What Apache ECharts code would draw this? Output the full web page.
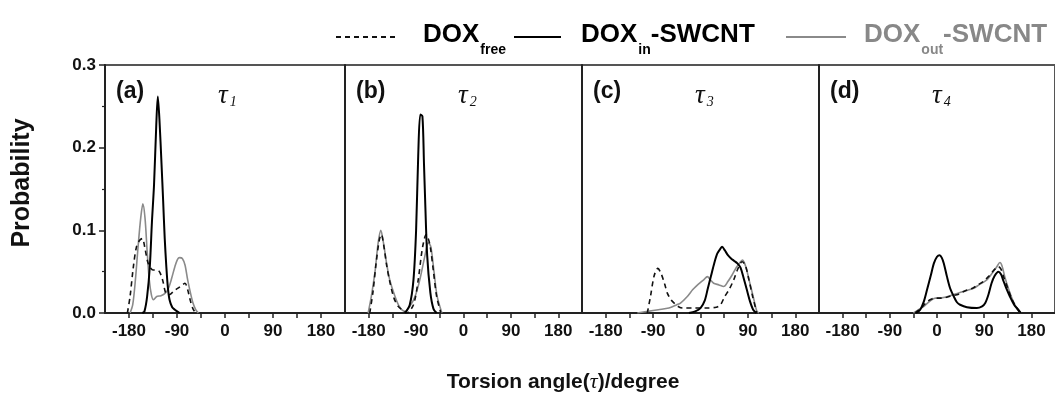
<!DOCTYPE html>
<html>
<head>
<meta charset="utf-8">
<script src="https://cdn.jsdelivr.net/npm/echarts@6/dist/echarts.min.js"></script>
<style>
  html, body { margin: 0; padding: 0; background: #fff; }
  #chart { width: 1055px; height: 403px; }
</style>
</head>
<body>
<div id="chart"></div>
<script>
// x tick labels shared by every panel
const xTicks = [-180, -90, 0, 90, 180];
const yTicks = [0, 0.1, 0.2, 0.3];
const panelTags = ["(a)", "(b)", "(c)", "(d)"];
const tauSubs = ["1", "2", "3", "4"];

// panel (a) tau1
const aFree = [[-183,0],[-178,0.02],[-172,0.055],[-166,0.08],[-160,0.088],[-155,0.09],[-150,0.078],[-145,0.062],[-140,0.055],[-135,0.052],[-129,0.052],[-123,0.05],[-117,0.04],[-111,0.024],[-105,0.022],[-100,0.024],[-93,0.028],[-86,0.031],[-80,0.034],[-75,0.036],[-70,0.028],[-65,0.015],[-60,0.005],[-55,0]];
const aIn = [[-155,0],[-151,0.002],[-146,0.02],[-141,0.056],[-137,0.11],[-133,0.156],[-129,0.225],[-126,0.262],[-123,0.235],[-119,0.18],[-116,0.136],[-113,0.09],[-110,0.056],[-107,0.03],[-104,0.016],[-99,0.007],[-94,0.004],[-85,0]];
const aOut = [[-178,0],[-173,0.01],[-168,0.04],[-163,0.08],[-158,0.115],[-154,0.132],[-150,0.115],[-146,0.075],[-142,0.04],[-138,0.022],[-134,0.016],[-128,0.02],[-120,0.021],[-112,0.024],[-106,0.03],[-100,0.042],[-94,0.056],[-89,0.065],[-85,0.067],[-80,0.066],[-75,0.058],[-70,0.04],[-65,0.025],[-60,0.012],[-55,0.004],[-50,0]];

// panel (b) tau2
const bFree = [[-178,0],[-172,0.025],[-166,0.06],[-160,0.088],[-156,0.095],[-151,0.08],[-146,0.058],[-140,0.038],[-132,0.018],[-124,0.008],[-117,0.004],[-108,0],[-95,0.01],[-86,0.04],[-80,0.07],[-76,0.085],[-71,0.095],[-67,0.09],[-63,0.08],[-57,0.05],[-51,0.02],[-43,0]];
const bIn = [[-111,0],[-102,0.01],[-95,0.04],[-90,0.1],[-86,0.19],[-82,0.24],[-78,0.238],[-75,0.18],[-73,0.14],[-69,0.07],[-63,0.025],[-57,0.005],[-51,0]];
const bOut = [[-181,0],[-175,0.02],[-168,0.05],[-162,0.085],[-157,0.1],[-152,0.085],[-146,0.06],[-140,0.04],[-130,0.02],[-121,0.007],[-111,0.002],[-102,0.008],[-92,0.02],[-83,0.04],[-73,0.07],[-67,0.085],[-62,0.08],[-56,0.05],[-50,0.02],[-41,0]];

// panel (c) tau3
const cFree = [[-101,0],[-95,0.02],[-88,0.045],[-81,0.054],[-75,0.048],[-68,0.035],[-63,0.024],[-56,0.016],[-50,0.012],[-40,0.007],[-30,0.006],[-10,0.006],[10,0.006],[30,0.007],[38,0.01],[46,0.02],[54,0.028],[63,0.04],[70,0.052],[79,0.062],[85,0.058],[92,0.04],[99,0.02],[107,0]];
const cIn = [[-22,0],[-10,0.002],[0,0.006],[8,0.015],[14,0.03],[20,0.045],[26,0.06],[32,0.072],[38,0.078],[41,0.08],[46,0.076],[52,0.07],[58,0.066],[64,0.063],[70,0.06],[76,0.055],[82,0.042],[88,0.028],[94,0.014],[100,0.004],[106,0]];
const cOut = [[-120,0],[-100,0.002],[-80,0.004],[-60,0.006],[-45,0.01],[-38,0.012],[-25,0.02],[-15,0.028],[-9,0.032],[0,0.037],[6,0.04],[13,0.044],[19,0.04],[25,0.036],[35,0.034],[44,0.032],[52,0.038],[60,0.046],[68,0.055],[76,0.062],[80,0.064],[86,0.056],[93,0.038],[100,0.02],[107,0.002],[111,0]];

// panel (d) tau4
const dFree = [[-42,0],[-34,0.004],[-26,0.009],[-18,0.014],[-10,0.017],[-2,0.018],[8,0.018],[18,0.019],[28,0.021],[38,0.022],[48,0.025],[58,0.028],[68,0.03],[78,0.034],[88,0.038],[98,0.044],[106,0.05],[112,0.054],[117,0.056],[122,0.053],[128,0.042],[135,0.03],[142,0.018],[150,0.008],[158,0]];
const dIn = [[-40,0],[-32,0.004],[-25,0.014],[-19,0.028],[-12,0.045],[-6,0.06],[0,0.068],[5,0.07],[9,0.067],[13,0.06],[19,0.044],[25,0.03],[32,0.02],[38,0.013],[44,0.01],[57,0.007],[76,0.006],[86,0.008],[92,0.012],[98,0.022],[104,0.036],[110,0.045],[117,0.05],[122,0.047],[126,0.04],[132,0.03],[139,0.02],[147,0.01],[155,0.004],[160,0]];
const dOut = [[-45,0],[-35,0.004],[-25,0.008],[-18,0.012],[-10,0.016],[-3,0.018],[5,0.018],[15,0.019],[25,0.021],[35,0.023],[45,0.025],[55,0.027],[70,0.03],[80,0.034],[95,0.04],[105,0.048],[114,0.056],[120,0.061],[124,0.057],[130,0.042],[137,0.028],[144,0.016],[151,0.007],[160,0]];

const freeSets = [aFree, bFree, cFree, dFree];
const inSets = [aIn, bIn, cIn, dIn];
const outSets = [aOut, bOut, cOut, dOut];

const lefts = [105, 345, 582, 819];
const widths = [240, 237, 237, 237];
const FONT = "'Liberation Sans', Arial, sans-serif";
const SERIF = "'Liberation Serif', 'DejaVu Serif', serif";

const chart = echarts.init(document.getElementById("chart"), null, { renderer: "canvas" });

const grids = [], xAxes = [], yAxes = [], series = [], graphics = [];

for (let i = 0; i < 4; i++) {
  grids.push({
    left: lefts[i], top: 65, width: widths[i], height: 248,
    show: true, borderColor: "#555", borderWidth: 2
  });
  xAxes.push({
    gridIndex: i, type: "value", min: -225, max: 225, interval: 45,
    axisLine: { onZero: false, lineStyle: { color: "#222", width: 2 } },
    axisTick: { length: 5, lineStyle: { color: "#222", width: 1.5 } },
    axisLabel: {
      margin: 10, color: "#111", fontFamily: FONT, fontWeight: "bold", fontSize: 17,
      showMinLabel: false, showMaxLabel: false,
      formatter: v => (xTicks.indexOf(v) >= 0 ? String(v) : "")
    },
    splitLine: { show: false }
  });
  yAxes.push({
    gridIndex: i, type: "value", min: 0, max: 0.3, interval: 0.1,
    axisLine: { show: true, onZero: false, lineStyle: { color: "#222", width: 2 } },
    axisTick: { show: i === 0, length: 6, lineStyle: { color: "#222", width: 1.5 } },
    minorTick: { show: i === 0, splitNumber: 2, length: 3, lineStyle: { color: "#222", width: 1.2 } },
    axisLabel: {
      show: i === 0, margin: 9, color: "#111", fontFamily: FONT, fontWeight: "bold", fontSize: 17,
      formatter: v => (yTicks.indexOf(Math.round(v * 10) / 10) >= 0 ? v.toFixed(1) : "")
    },
    splitLine: { show: false }
  });

  series.push({
    name: "out", type: "line", xAxisIndex: i, yAxisIndex: i, data: outSets[i],
    symbol: "none", smooth: 0.3, lineStyle: { color: "#8a8a8a", width: 1.6 }, itemStyle: { color: "#8a8a8a" }
  });
  series.push({
    name: "free", type: "line", xAxisIndex: i, yAxisIndex: i, data: freeSets[i],
    symbol: "none", smooth: 0.3, lineStyle: { color: "#111", width: 1.6, type: [5, 4] }, itemStyle: { color: "#111" }
  });
  series.push({
    name: "in", type: "line", xAxisIndex: i, yAxisIndex: i, data: inSets[i],
    symbol: "none", smooth: 0.3, lineStyle: { color: "#000", width: 2 }, itemStyle: { color: "#000" }
  });

  // panel tag and torsion label
  graphics.push({
    type: "text", left: lefts[i] + 11, top: 80,
    style: { text: panelTags[i], font: "bold 23px " + FONT, fill: "#111" }
  });
  graphics.push({
    type: "text", left: lefts[i] + 113, top: 82,
    style: {
      text: "{t|τ}{s|" + tauSubs[i] + "}",
      rich: {
        t: { fontFamily: SERIF, fontStyle: "italic", fontSize: 27, fill: "#111", verticalAlign: "top", lineHeight: 22 },
        s: { fontFamily: SERIF, fontStyle: "italic", fontSize: 14, fill: "#111", verticalAlign: "top", lineHeight: 14, padding: [13, 0, 0, 2] }
      }
    }
  });
}

// axis titles
graphics.push({
  type: "text", x: 22, y: 183, rotation: Math.PI / 2,
  style: { text: "Probability", font: "bold 25px " + FONT, fill: "#111", align: "center", verticalAlign: "middle" }
});
graphics.push({
  type: "text", x: 563, y: 382,
  style: {
    text: "Torsion angle({t|τ})/degree", font: "bold 21px " + FONT, fill: "#111",
    align: "center", verticalAlign: "middle",
    rich: { t: { fontFamily: SERIF, fontStyle: "italic", fontSize: 22, fill: "#111" } }
  }
});

const richLegend = (color) => ({
  m: { fontFamily: FONT, fontWeight: "bold", fontSize: 26, color: color, lineHeight: 30, verticalAlign: "top" },
  s: { fontFamily: FONT, fontWeight: "bold", fontSize: 14, color: color, lineHeight: 14, verticalAlign: "top", padding: [21, 0, 0, 1] }
});
const legendText = { free: "{m|DOX}{s|free}", in: "{m|DOX}{s|in}{m|-SWCNT}", out: "{m|DOX}{s|out}{m|-SWCNT}" };

const mkLegend = (name, left, w, color, pad) => ({
  data: [name], left: left, top: 22, itemWidth: w, itemHeight: 14, padding: 0,
  selectedMode: false,
  itemStyle: { opacity: 0 },
  formatter: n => legendText[n],
  textStyle: { padding: [0, 0, 0, pad], rich: richLegend(color) }
});

chart.setOption({
  animation: false,
  backgroundColor: "#fff",
  legend: [
    mkLegend("free", 335, 60, "#000", 22),
    mkLegend("in", 513, 47, "#000", 15),
    mkLegend("out", 785, 60, "#888", 13)
  ],
  grid: grids,
  xAxis: xAxes,
  yAxis: yAxes,
  series: series,
  graphic: graphics
});
</script>
</body>
</html>
